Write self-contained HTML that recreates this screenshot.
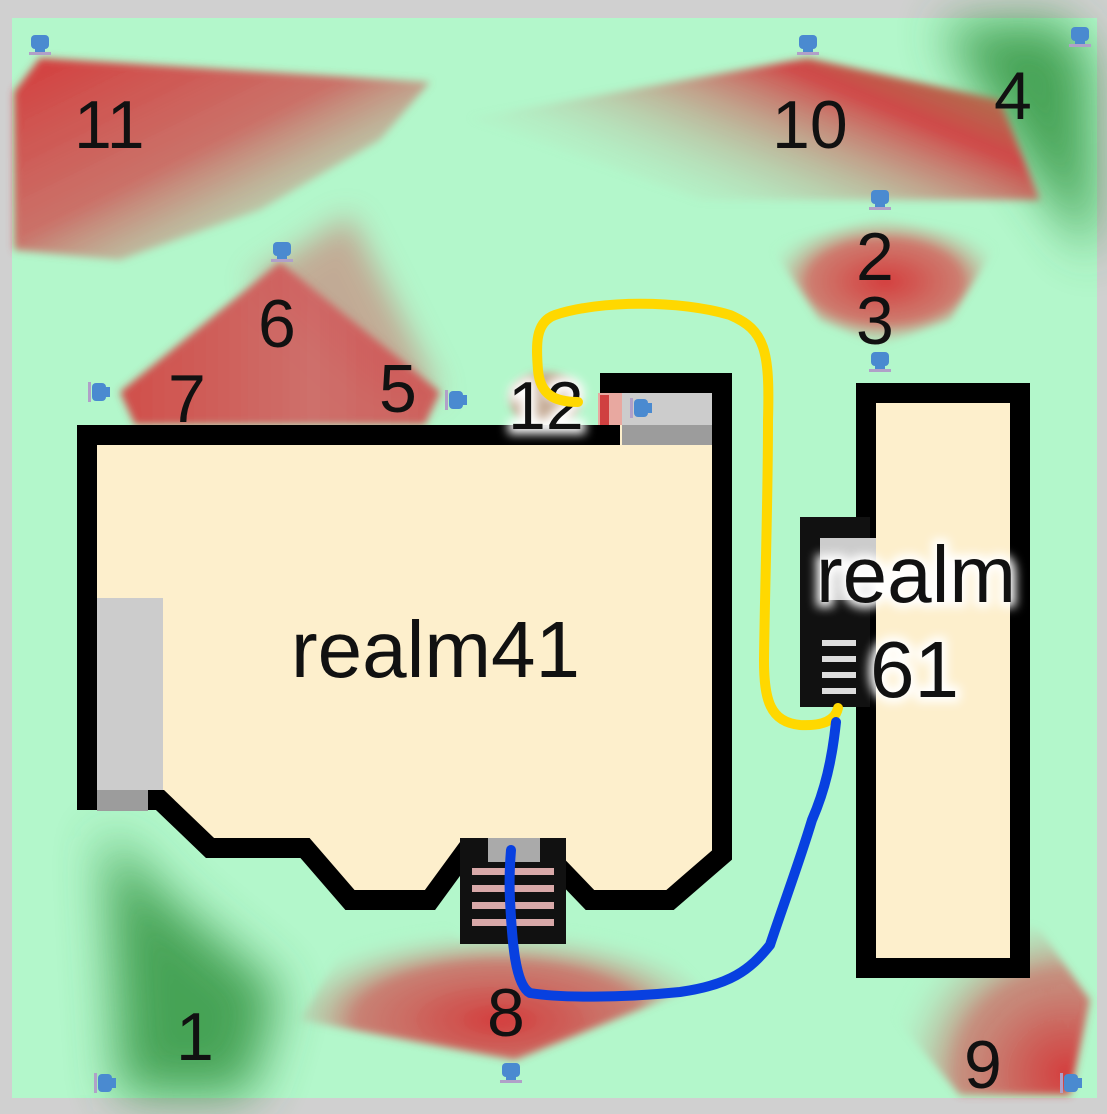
<!DOCTYPE html>
<html><head><meta charset="utf-8"><style>
html,body{margin:0;padding:0;background:#d0d0d0}
svg{display:block}
text{font-family:"Liberation Sans",sans-serif;fill:#111}
</style></head><body>
<svg width="1107" height="1114" viewBox="0 0 1107 1114" xmlns="http://www.w3.org/2000/svg">
<defs>
<filter id="b" x="-30%" y="-30%" width="160%" height="160%"><feGaussianBlur stdDeviation="25"/></filter>
<filter id="b2" x="-30%" y="-30%" width="160%" height="160%"><feGaussianBlur stdDeviation="4"/></filter>
<filter id="b3" x="-30%" y="-30%" width="160%" height="160%"><feGaussianBlur stdDeviation="15"/></filter>
<filter id="g" x="-50%" y="-50%" width="200%" height="200%"><feGaussianBlur stdDeviation="5"/></filter>
<linearGradient id="g11" x1="0" y1="0" x2="1" y2="1"><stop offset="0" stop-color="#d43c3c"/><stop offset="0.45" stop-color="#d05050" stop-opacity="0.8"/><stop offset="1" stop-color="#b3f7cb" stop-opacity="0"/></linearGradient>
<linearGradient id="g10" x1="1" y1="0" x2="0" y2="0.6"><stop offset="0" stop-color="#8a9a55"/><stop offset="0.35" stop-color="#d04848"/><stop offset="1" stop-color="#b3f7cb" stop-opacity="0"/></linearGradient>
<linearGradient id="g6" x1="0" y1="0" x2="1" y2="0"><stop offset="0" stop-color="#d43c3c"/><stop offset="0.6" stop-color="#d06060"/><stop offset="1" stop-color="#d05050"/></linearGradient>
<radialGradient id="g2" cx="0.5" cy="0.5" r="0.55"><stop offset="0" stop-color="#d43c3c"/><stop offset="0.6" stop-color="#d84848" stop-opacity="0.7"/><stop offset="1" stop-color="#b3f7cb" stop-opacity="0"/></radialGradient>
<radialGradient id="g8" cx="0.5" cy="0.75" r="0.6"><stop offset="0" stop-color="#d43c3c"/><stop offset="0.6" stop-color="#d05050" stop-opacity="0.7"/><stop offset="1" stop-color="#b3f7cb" stop-opacity="0"/></radialGradient>
<radialGradient id="g9" cx="0.9" cy="0.9" r="0.8"><stop offset="0" stop-color="#d43c3c"/><stop offset="0.6" stop-color="#d05050" stop-opacity="0.6"/><stop offset="1" stop-color="#b3f7cb" stop-opacity="0"/></radialGradient>
<g id="cam"><rect x="-9" y="-10" width="18" height="14" rx="4" fill="#4a8ad0"/><rect x="-5" y="3" width="10" height="5" fill="#4a8ad0"/><rect x="-11" y="7" width="22" height="3" fill="#b0a0c8"/></g>
<g id="camh"><rect x="-8" y="-9" width="14" height="18" rx="4" fill="#4a8ad0"/><rect x="5" y="-5" width="5" height="10" fill="#4a8ad0"/><rect x="-12" y="-10" width="3" height="20" fill="#b0a0c8"/></g>
</defs>
<rect x="0" y="0" width="1107" height="1114" fill="#d0d0d0"/>
<rect x="12" y="18" width="1085" height="1080" fill="#b3f7cb"/>
<g filter="url(#b)" opacity="0.9">
<polygon points="940,25 1060,20 1090,60 1095,260 1030,170" fill="#3a9a48"/>
<polygon points="105,830 170,900 280,990 250,1095 120,1095" fill="#3a9a48"/>
</g>
<g filter="url(#b3)" opacity="0.5">
<polygon points="250,280 350,215 440,395 380,395" fill="#d06060"/>
</g>
<g filter="url(#b2)">
<polygon points="14,92 40,58 430,82 380,140 260,210 120,260 14,250" fill="url(#g11)"/>
<polygon points="470,118 808,58 1000,100 1040,200 900,200 700,200" fill="url(#g10)"/>
<polygon points="770,245 880,218 1000,240 950,320 880,345 820,320" fill="url(#g2)"/>
<polygon points="120,392 280,262 440,392 425,425 135,425" fill="url(#g6)" opacity="0.9"/>
<polygon points="300,1020 515,1060 700,985 620,900 560,930 460,940 420,900 360,920" fill="url(#g8)"/>
<polygon points="860,880 1040,930 1090,1000 1070,1095 960,1095 880,1000" fill="url(#g9)"/>
<ellipse cx="545" cy="400" rx="35" ry="28" fill="#d86060" opacity="0.5"/>
</g>
<polygon points="87,435 610,435 610,383 722,383 722,855 670,900 590,900 540,848 468,848 430,900 350,900 305,848 210,848 160,800 87,800" fill="#fdefcc" stroke="#000" stroke-width="20" stroke-linejoin="miter"/>
<rect x="598" y="393" width="24" height="32" fill="#e8a8a0"/>
<rect x="600" y="395" width="9" height="30" fill="#d04040"/>
<rect x="622" y="393" width="90" height="52" fill="#cccccc"/>
<rect x="622" y="425" width="90" height="20" fill="#9c9c9c"/>
<rect x="97" y="598" width="66" height="192" fill="#cccccc"/>
<rect x="97" y="790" width="51" height="21" fill="#9c9c9c"/>
<rect x="460" y="838" width="106" height="106" fill="#111"/>
<rect x="488" y="838" width="52" height="24" fill="#aaa"/>
<rect x="472" y="868" width="82" height="7" fill="#d8a8a8"/>
<rect x="472" y="885" width="82" height="7" fill="#d8a8a8"/>
<rect x="472" y="902" width="82" height="7" fill="#d8a8a8"/>
<rect x="472" y="919" width="82" height="7" fill="#d8a8a8"/>
<rect x="866" y="393" width="154" height="575" fill="#fdefcc" stroke="#000" stroke-width="20"/>
<rect x="800" y="517" width="70" height="190" fill="#111"/>
<rect x="820" y="538" width="56" height="62" fill="#cccccc"/>
<rect x="822" y="640" width="34" height="6" fill="#ddd"/>
<rect x="822" y="656" width="34" height="6" fill="#ddd"/>
<rect x="822" y="672" width="34" height="6" fill="#ddd"/>
<rect x="822" y="688" width="34" height="6" fill="#ddd"/>
<use href="#cam" x="40" y="45"/><use href="#cam" x="808" y="45"/><use href="#cam" x="1080" y="37"/>
<use href="#cam" x="880" y="200"/><use href="#cam" x="282" y="252"/><use href="#cam" x="880" y="362"/>
<use href="#camh" x="100" y="392"/><use href="#camh" x="457" y="400"/><use href="#camh" x="642" y="408"/>
<use href="#cam" x="511" y="1073"/><use href="#camh" x="106" y="1083"/><use href="#camh" x="1072" y="1083"/>
<g font-size="68">
<text x="74" y="148">11</text><text x="772" y="148">10</text><text x="994" y="119">4</text>
<text x="856" y="280">2</text><text x="856" y="344">3</text><text x="258" y="347">6</text>
<text x="168" y="422">7</text><text x="379" y="412">5</text>
<text x="487" y="1036">8</text><text x="176" y="1060">1</text><text x="964" y="1088">9</text>
</g>
<g font-size="68">
<text x="508" y="429" fill="#fff" stroke="#fff" stroke-width="10" filter="url(#g)">12</text>
<text x="508" y="429">12</text>
</g>
<g font-size="80">
<text x="816" y="602" fill="#fff" stroke="#fff" stroke-width="10" filter="url(#g)">realm</text>
<text x="816" y="602">realm</text>
<text x="870" y="697" fill="#fff" stroke="#fff" stroke-width="10" filter="url(#g)">61</text>
<text x="870" y="697">61</text>
<text x="291" y="677">realm41</text>
</g>
<path d="M578,402 C555,402 540,395 538,370 C536,345 535,322 555,315 C600,300 680,300 730,315 C765,330 770,350 768,420 C768,500 765,580 764,660 C764,700 770,722 800,725 C820,726 835,722 838,708" fill="none" stroke="#ffd800" stroke-width="10" stroke-linecap="round" stroke-linejoin="round"/>
<path d="M836,722 C832,760 825,790 812,820 C800,860 785,900 770,945 C750,970 730,985 680,992 C620,998 560,998 530,993 C515,985 512,940 510,900 C509,880 510,862 511,850" fill="none" stroke="#0840e0" stroke-width="10" stroke-linecap="round" stroke-linejoin="round"/>
</svg>
</body></html>
